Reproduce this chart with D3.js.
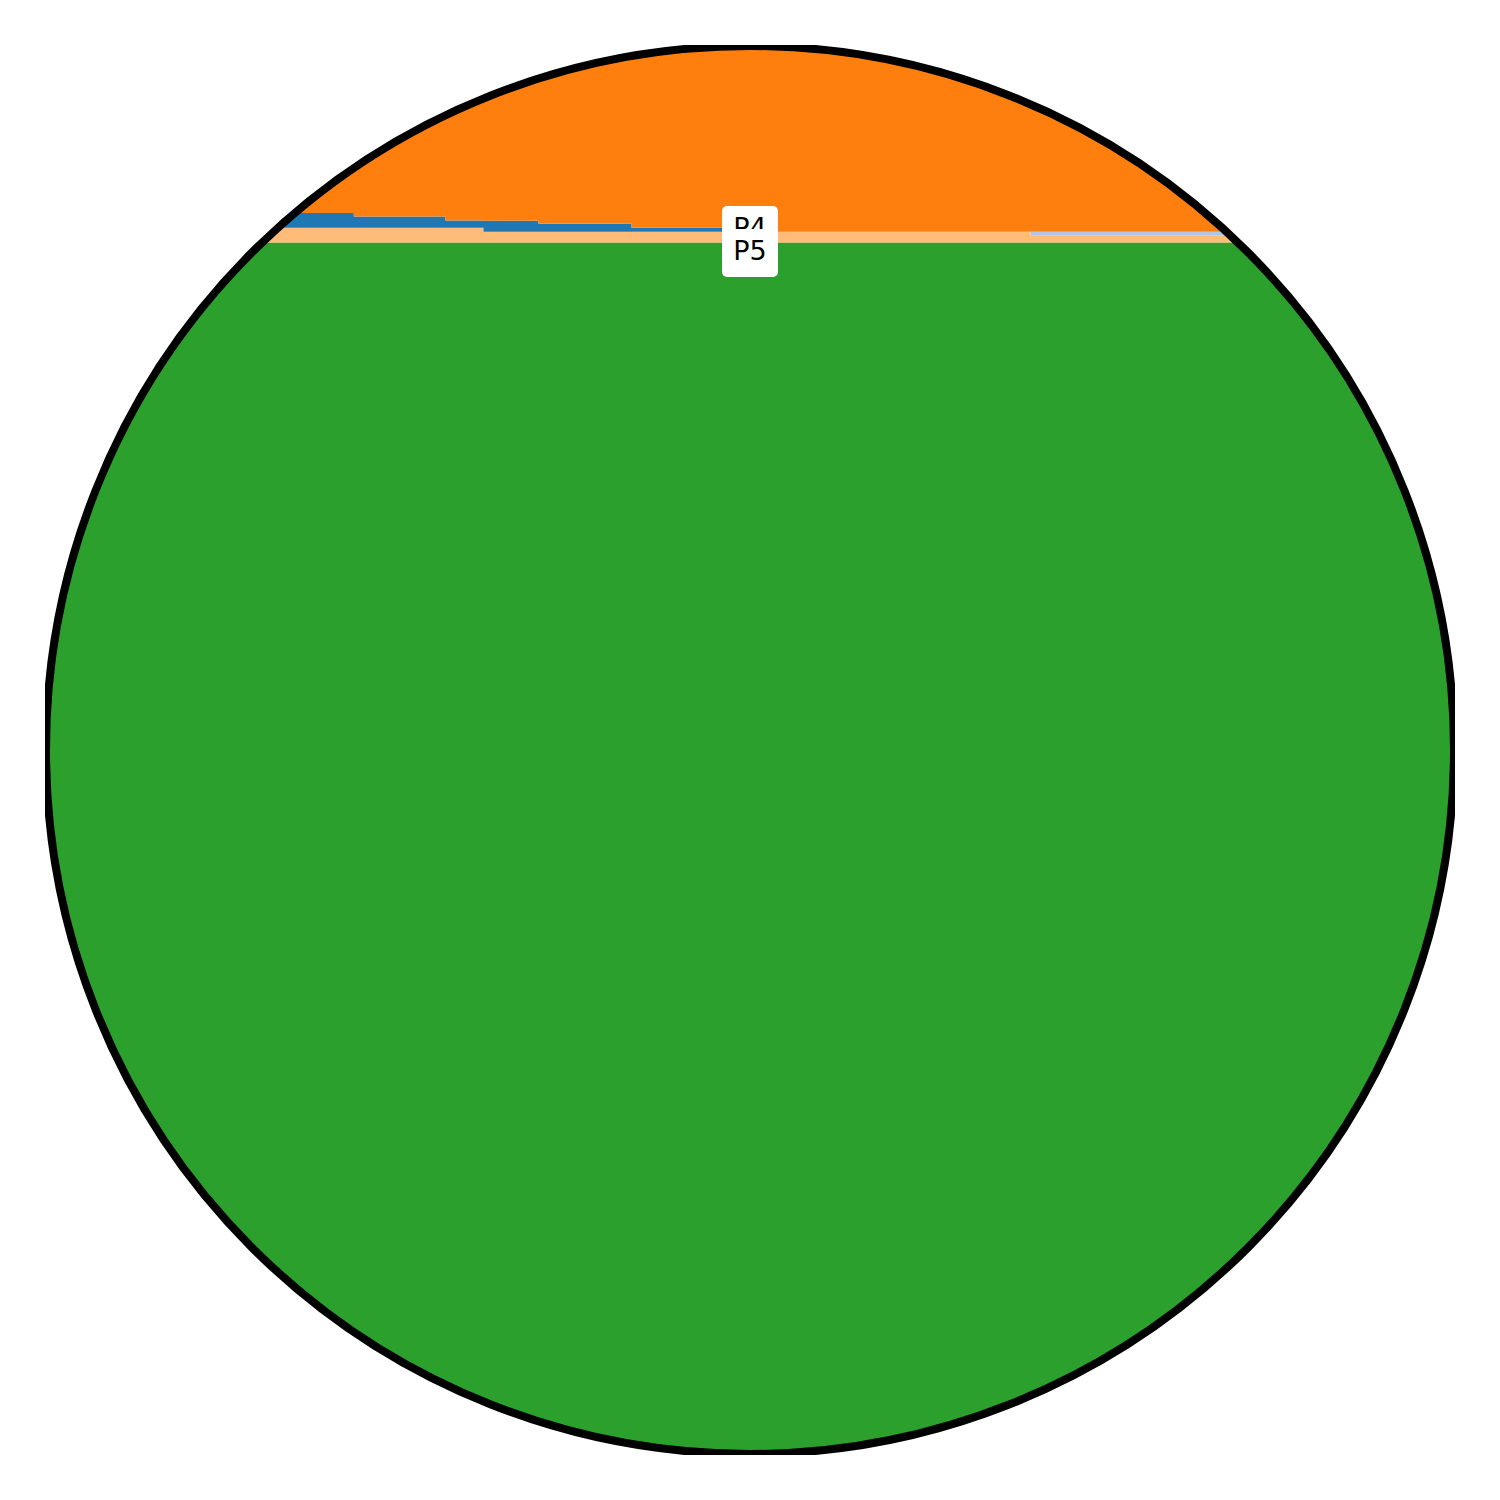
<!DOCTYPE html>
<html>
<head>
<meta charset="utf-8">
<script src="https://cdn.jsdelivr.net/npm/d3@7"></script>
<style>
  html, body { margin: 0; padding: 0; background: #ffffff; }
  svg { display: block; }
</style>
</head>
<body>
<svg id="chart" width="1500" height="1500"></svg>
<script>
// ---- data ----
const breaks = [0, 21.9, 28.4, 31.1, 35.0, 41.6, 48.2, 69.9, 100];
const seriesNames = ["P5", "P4", "P3", "P2", "P1"];
const green       = [86.0, 86.0, 86.0, 86.0, 86.0, 86.0, 86.0, 86.0];
const lightOrange = [1.04, 1.04, 1.04, 0.76, 0.76, 0.76, 0.76, 0.475];
const lightBlue   = [0, 0, 0, 0, 0, 0, 0, 0.284];
const blue        = [1.04, 0.80, 0.52, 0.78, 0.57, 0.284, 0, 0];
const orange      = [11.92, 12.16, 12.44, 12.46, 12.67, 12.96, 13.24, 13.24];
const labels = ["P4", "P5"];
const labelY = [86.38, 84.75];

// ---- layout ----
const svg = d3.select("#chart");
const x0 = 45, x1 = 1455, y0 = 1455, y1 = 45;
const cx = 750, cy = 750, r = 704;

const x = d3.scaleLinear().domain([0, 100]).range([x0, x1]);
const y = d3.scaleLinear().domain([0, 100]).range([y0, y1]);

const keys = ["green", "lightOrange", "lightBlue", "blue", "orange"];
const colors = {
  green: "#2ca02c", lightOrange: "#ffbb78", lightBlue: "#aec7e8",
  blue: "#1f77b4", orange: "#ff7f0e"
};
const src = { green, lightOrange, lightBlue, blue, orange };

const rows = breaks.map((b, i) => {
  const j = Math.min(i, green.length - 1);
  const row = { x: b };
  keys.forEach(k => row[k] = src[k][j]);
  return row;
});

const stacked = d3.stack().keys(keys)(rows);

const defs = svg.append("defs");
defs.append("clipPath").attr("id", "circClip")
  .append("circle").attr("cx", cx).attr("cy", cy).attr("r", r);
defs.append("clipPath").attr("id", "boxClip")
  .append("rect").attr("x", x0).attr("y", y1).attr("width", x1 - x0).attr("height", y0 - y1);

const area = d3.area()
  .curve(d3.curveStepAfter)
  .x(d => x(d.data.x))
  .y0(d => y(d[0]))
  .y1(d => y(d[1]));

const g = svg.append("g").attr("clip-path", "url(#boxClip)");
const inner = g.append("g").attr("clip-path", "url(#circClip)");

inner.selectAll("path.layer")
  .data(stacked)
  .join("path")
  .attr("class", "layer")
  .attr("fill", d => colors[d.key])
  .attr("d", area);

g.append("circle")
  .attr("cx", cx).attr("cy", cy).attr("r", r)
  .attr("fill", "none")
  .attr("stroke", "#000")
  .attr("stroke-width", 8);

// labels
const lab = svg.append("g");
labels.forEach((t, i) => {
  const by = y(labelY[i]);
  const lx = x(50);
  lab.append("rect")
    .attr("x", lx - 28).attr("y", by - 31)
    .attr("width", 56).attr("height", 48)
    .attr("rx", 5).attr("ry", 5)
    .attr("fill", "#ffffff");
  lab.append("text")
    .attr("x", lx).attr("y", by)
    .attr("text-anchor", "middle")
    .attr("font-family", "DejaVu Sans")
    .attr("font-size", 27)
    .attr("fill", "#000")
    .text(t);
});
</script>
</body>
</html>
